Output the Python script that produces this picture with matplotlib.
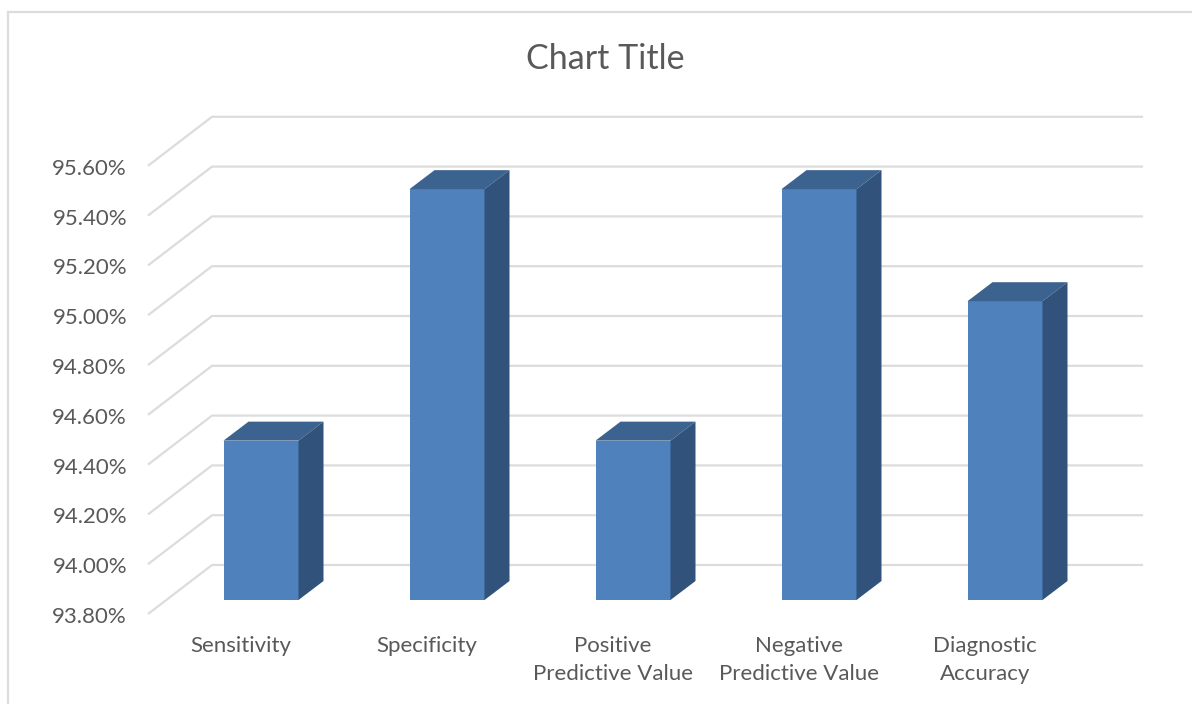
import matplotlib
matplotlib.use("Agg")
import matplotlib.pyplot as plt
from matplotlib.patches import Polygon

categories = ["Sensitivity", "Specificity", "Positive\nPredictive Value",
              "Negative\nPredictive Value", "Diagnostic\nAccuracy"]
values = [94.44, 95.45, 94.44, 95.45, 95.00]
ticks = [93.8, 94.0, 94.2, 94.4, 94.6, 94.8, 95.0, 95.2, 95.4, 95.6]

W, H = 1192, 704
# axis scales: one category step and one 0.2% step, in pixels
px_x = 186.0
px_y = 49.8 / 0.2
x0_px, y0_px = 261.0, 600.0

plt.rcParams["font.family"] = ["Lato", "DejaVu Sans"]
fig = plt.figure(figsize=(W / 100, H / 100), dpi=100)
ax = fig.add_axes([0, 0, 1, 1])
ax.set_xlim((0 - x0_px) / px_x, (W - x0_px) / px_x)
ax.set_ylim(93.8 - (H - y0_px) / px_y, 93.8 + y0_px / px_y)
ax.axis("off")

grid_col = "#dcdcdc"
text_col = "#595959"
front = "#4f81bd"
top = "#3c638f"
side = "#31527b"

# outer chart frame, open on the right and at the bottom
ax.plot([8 / W, 8 / W, 1.0], [0.0, 1 - 12 / H, 1 - 12 / H], transform=ax.transAxes,
        color=grid_col, lw=1.6, solid_joinstyle="miter", zorder=1)

# floor/wall gridlines, drawn relative to the bars' front plane
wall_left = -0.2634
wall_right = 4.742
floor_left = -0.6075
front_drop = 14 / px_y
back_rise = 35 / px_y
for t in ticks:
    ax.plot([floor_left, wall_left, wall_right],
            [t - front_drop, t + back_rise, t + back_rise],
            color=grid_col, lw=1.6, solid_capstyle="butt", zorder=1)
    ax.annotate(f"{t:.2f}%", (floor_left, t - front_drop), xytext=(-21, -3),
                textcoords="offset pixels", ha="right", va="center",
                fontsize=16, color=text_col)

# 3D columns
bar_w = 75 / px_x
dx = 25 / px_x
dy = 19 / px_y
base = ticks[0]
for i, v in enumerate(values):
    xl = i - bar_w / 2
    xr = i + bar_w / 2
    ax.bar(i, v - base, bar_w, bottom=base, color=front, zorder=3)
    ax.add_patch(Polygon([(xl, v), (xr, v), (xr + dx, v + dy), (xl + dx, v + dy)],
                         fc=top, ec="none", zorder=3))
    ax.add_patch(Polygon([(xr, base), (xr + dx, base + dy), (xr + dx, v + dy), (xr, v)],
                         fc=side, ec="none", zorder=3))
    ax.annotate(categories[i], (i, base), xytext=(-20, -36), textcoords="offset pixels",
                ha="center", va="top", fontsize=16, color=text_col, linespacing=1.52)

fig.text(605.5 / W, 1 - 59 / H, "Chart Title", ha="center", va="center",
         fontsize=24.5, color=text_col)

fig.savefig("out.png", dpi=100)
